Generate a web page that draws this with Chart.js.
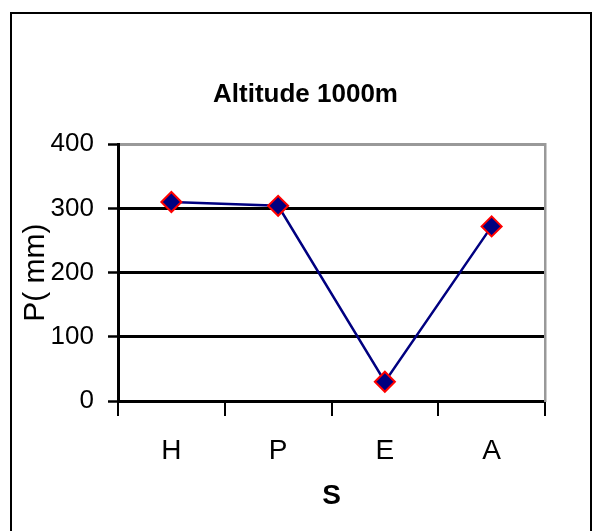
<!DOCTYPE html>
<html>
<head>
<meta charset="utf-8">
<title>Altitude 1000m</title>
<script src="https://cdn.jsdelivr.net/npm/chart.js@4.4.1/dist/chart.umd.min.js"></script>
<style>
    html, body { margin: 0; padding: 0; background: #fff; }
    #frame {
        position: absolute;
        left: 10px;
        top: 12px;
        width: 578px;
        height: 560px;
        border: 2px solid #000;
    }
    #wrap {
        position: absolute;
        left: 0;
        top: 0;
        width: 593px;
        height: 531px;
    }
</style>
</head>
<body>
<div id="frame"></div>
<div id="wrap"><canvas id="chart-altitude"></canvas></div>
<script>
'use strict';

var stations = ['H', 'P', 'E', 'A']
var rainfall = [310, 304, 30, 272]
var yTicks = [0, 100, 200, 300, 400]

var fontFamily = '"Liberation Sans", Arial, sans-serif'
var lineColor = '#000080'
var markerBorder = '#ff0000'

function initAltitudeChart() {
    var ctx = document.getElementById('chart-altitude').getContext('2d')
    new Chart(ctx, {
        type: 'line',
        data: {
            labels: stations,
            datasets: [{
                data: rainfall,
                borderColor: lineColor,
                borderWidth: 2.5,
                backgroundColor: lineColor,
                pointStyle: 'rectRot',
                pointRadius: 10,
                pointHoverRadius: 10,
                pointBackgroundColor: lineColor,
                pointBorderColor: markerBorder,
                pointBorderWidth: 2,
                tension: 0,
                yAxisID: 'y'
            }]
        },
        options: {
            responsive: true,
            maintainAspectRatio: false,
            animation: false,
            events: [],
            layout: {
                padding: { left: 18, right: 0, top: 0, bottom: 0 }
            },
            plugins: {
                legend: { display: false },
                tooltip: { enabled: false },
                title: {
                    display: true,
                    text: 'Altitude 1000m',
                    color: '#000',
                    font: { family: fontFamily, size: 26, weight: 'bold' },
                    padding: { top: 79, bottom: 34 }
                }
            },
            scales: {
                x: {
                    offset: true,
                    grid: {
                        offset: true,
                        drawOnChartArea: false,
                        tickLength: 15,
                        lineWidth: 2,
                        tickWidth: 2,
                        tickColor: '#000'
                    },
                    border: { display: true, color: '#000', width: 3 },
                    ticks: {
                        color: '#000',
                        padding: 18,
                        maxRotation: 0,
                        font: { family: fontFamily, size: 28 }
                    },
                    title: {
                        display: true,
                        text: 'S',
                        color: '#000',
                        font: { family: fontFamily, size: 28, weight: 'bold' },
                        padding: { top: 0, bottom: 18 }
                    },
                    afterFit: function(scale) { scale.height = 130 }
                },
                y: {
                    min: 0,
                    max: 400,
                    afterBuildTicks: function(scale) {
                        scale.ticks = yTicks.map(function(v) { return { value: v } })
                    },
                    grid: {
                        color: function(c) {
                            return c.tick && c.tick.value === 400 ? '#999' : '#000'
                        },
                        tickColor: '#000',
                        lineWidth: 3,
                        tickWidth: 2.5,
                        tickLength: 10
                    },
                    border: { display: true, color: '#000', width: 3 },
                    ticks: {
                        color: '#000',
                        padding: 14,
                        font: { family: fontFamily, size: 26 }
                    },
                    title: {
                        display: true,
                        text: 'P( mm)',
                        color: '#000',
                        font: { family: fontFamily, size: 30 },
                        padding: { top: 0, bottom: 0 }
                    },
                    afterFit: function(scale) { scale.width = 100 }
                },
                // empty right axis: grey right edge of the plot, and keeps
                // the title centred over the whole box
                y2: {
                    position: 'right',
                    min: 0,
                    max: 400,
                    grid: { display: false, drawTicks: false },
                    ticks: { display: false },
                    border: { display: true, color: '#999', width: 2.5 },
                    afterFit: function(scale) { scale.width = 48 }
                }
            }
        }
    })
}

initAltitudeChart()
</script>
</body>
</html>
